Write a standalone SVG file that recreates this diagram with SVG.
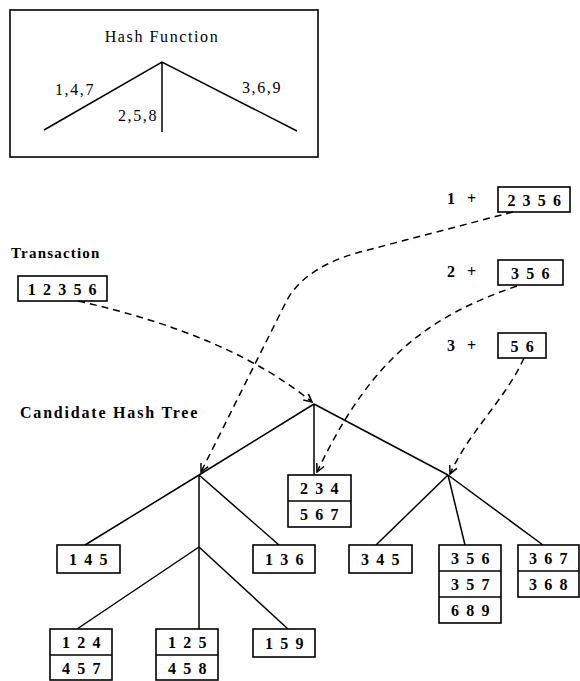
<svg xmlns="http://www.w3.org/2000/svg" width="580" height="681" viewBox="0 0 580 681">
  <style>
    .frame { fill: none; stroke: #000; stroke-width: 1.6; }
    .box { fill: #fff; stroke: #000; stroke-width: 1.6; }
    .edge { fill: none; stroke: #000; stroke-width: 1.5; }
    .flow { fill: none; stroke: #000; stroke-width: 1.5; stroke-dasharray: 7 5; }
    .num { font-family: "Liberation Serif", "Times New Roman", serif; font-size: 16px; font-weight: bold; letter-spacing: 1.6px; text-anchor: middle; fill: #000; }
    .title { font-family: "Liberation Serif", "Times New Roman", serif; font-size: 16px; letter-spacing: 1.6px; fill: #000; }
    .label { font-family: "Liberation Serif", "Times New Roman", serif; font-size: 16px; font-weight: bold; letter-spacing: 1.2px; fill: #000; }
    .plus { font-family: "Liberation Serif", "Times New Roman", serif; font-size: 16px; font-weight: bold; word-spacing: 8px; fill: #000; }
  </style>
  <defs>
    <marker id="barb" viewBox="0 0 10 10" refX="9" refY="5" markerWidth="10" markerHeight="10" markerUnits="userSpaceOnUse" orient="auto">
      <path d="M1,1 L9,5 L1,9" fill="none" stroke="#000" stroke-width="1.5"/>
    </marker>
  </defs>

  <rect width="580" height="681" fill="#fff"/>

  <!-- hash function legend -->
  <g id="hash-function">
    <rect class="frame" x="10" y="10" width="308" height="147"/>
    <text class="title" x="162" y="42" text-anchor="middle">Hash Function</text>
    <path class="edge" d="M44,130 L162,62 L297,131 M162,62 L162,132"/>
    <text class="title" x="55" y="95">1,4,7</text>
    <text class="title" x="158" y="121" text-anchor="end">2,5,8</text>
    <text class="title" x="242" y="93">3,6,9</text>
  </g>

  <!-- transaction -->
  <g id="transaction">
    <text class="label" x="11" y="258" style="font-size:15px">Transaction</text>
    <rect class="box" x="18" y="276" width="89" height="25"/>
    <text class="num" x="63" y="295">1 2 3 5 6</text>
  </g>

  <!-- remaining items after each prefix -->
  <g id="prefix-1">
    <text class="plus" x="447" y="204">1 +</text>
    <rect class="box" x="498" y="187" width="72" height="25"/>
    <text class="num" x="535" y="206">2 3 5 6</text>
  </g>
  <g id="prefix-2">
    <text class="plus" x="447" y="277">2 +</text>
    <rect class="box" x="498" y="260" width="65" height="25"/>
    <text class="num" x="531" y="279">3 5 6</text>
  </g>
  <g id="prefix-3">
    <text class="plus" x="447" y="351">3 +</text>
    <rect class="box" x="498" y="333" width="48" height="25"/>
    <text class="num" x="523" y="352">5 6</text>
  </g>

  <text class="label" x="20" y="418" style="letter-spacing:1.8px">Candidate Hash Tree</text>

  <!-- tree edges and probe paths -->
  <g id="connectors">
    <path class="edge" d="M314,404 L199,475 M314,404 L314,475 M314,404 L448,475"/>
    <path class="edge" d="M199,475 L85,545 M199,475 L279,545 M199,475 L199,629"/>
    <path class="edge" d="M199,547 L77,629 M199,547 L288,629"/>
    <path class="edge" d="M448,475 L376,545 M448,475 L465,545 M448,475 L543,545"/>

    <path class="flow" marker-end="url(#barb)" d="M78,301 Q 230,335 312,402"/>
    <path class="flow" marker-end="url(#barb)" d="M513,212 L 360,252 Q 302,268 285,304 L 201,472"/>
    <path class="flow" marker-end="url(#barb)" d="M517,286 C 430,316 372,356 317,472"/>
    <path class="flow" marker-end="url(#barb)" d="M524,358 C 505,400 470,430 450,474"/>
  </g>

  <!-- leaves -->
  <g id="leaf-234">
    <rect class="box" x="288" y="475" width="63" height="52"/>
    <line class="edge" x1="288" y1="501" x2="351" y2="501"/>
    <text class="num" x="320" y="494">2 3 4</text>
    <text class="num" x="320" y="520">5 6 7</text>
  </g>
  <g id="leaf-145">
    <rect class="box" x="57" y="545" width="63" height="28"/>
    <text class="num" x="89" y="565">1 4 5</text>
  </g>
  <g id="leaf-136">
    <rect class="box" x="253" y="545" width="62" height="28"/>
    <text class="num" x="285" y="565">1 3 6</text>
  </g>
  <g id="leaf-345">
    <rect class="box" x="349" y="545" width="63" height="28"/>
    <text class="num" x="381" y="565">3 4 5</text>
  </g>
  <g id="leaf-356">
    <rect class="box" x="439" y="545" width="62" height="78"/>
    <line class="edge" x1="439" y1="571" x2="501" y2="571"/>
    <line class="edge" x1="439" y1="597" x2="501" y2="597"/>
    <text class="num" x="471" y="564">3 5 6</text>
    <text class="num" x="471" y="590">3 5 7</text>
    <text class="num" x="471" y="616">6 8 9</text>
  </g>
  <g id="leaf-367">
    <rect class="box" x="518" y="545" width="61" height="52"/>
    <line class="edge" x1="518" y1="571" x2="579" y2="571"/>
    <text class="num" x="549" y="564">3 6 7</text>
    <text class="num" x="549" y="590">3 6 8</text>
  </g>
  <g id="leaf-124">
    <rect class="box" x="50" y="629" width="62" height="51"/>
    <line class="edge" x1="50" y1="655" x2="112" y2="655"/>
    <text class="num" x="82" y="648">1 2 4</text>
    <text class="num" x="82" y="674">4 5 7</text>
  </g>
  <g id="leaf-125">
    <rect class="box" x="156" y="629" width="62" height="51"/>
    <line class="edge" x1="156" y1="655" x2="218" y2="655"/>
    <text class="num" x="188" y="648">1 2 5</text>
    <text class="num" x="188" y="674">4 5 8</text>
  </g>
  <g id="leaf-159">
    <rect class="box" x="253" y="629" width="62" height="28"/>
    <text class="num" x="285" y="649">1 5 9</text>
  </g>
</svg>
